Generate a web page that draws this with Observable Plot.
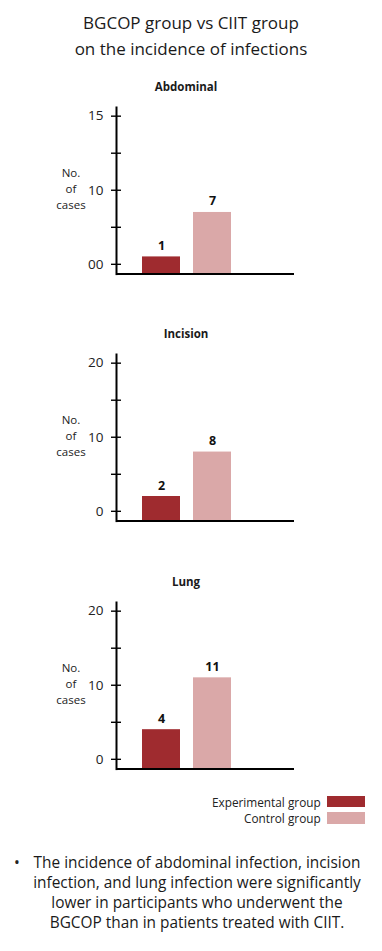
<!DOCTYPE html>
<html><head><meta charset="utf-8">
<script src="https://cdn.jsdelivr.net/npm/d3@7"></script>
<script src="https://cdn.jsdelivr.net/npm/@observablehq/plot@0.6"></script>
<style>
body{margin:0;background:#fff;font-family:"Open Sans",sans-serif;color:#222}
#root{position:relative;width:382px;height:951px;overflow:hidden}
.abs{position:absolute}
.title{left:0;width:382px;text-align:center;font-size:17px;line-height:26px;top:10px;color:#1a1a1a}
.ptitle{left:0;width:372px;text-align:center;font-size:11.5px;font-weight:700;line-height:14px;color:#1a1a1a}
.ylab{left:41px;width:60px;text-align:center;font-size:11.5px;line-height:16px;color:#222}
.leg{font-size:11.8px;line-height:16.3px;text-align:right;width:220px;left:100.7px;color:#222;white-space:nowrap}
.sw{left:327px;width:38px;height:11.4px}
.note{left:22px;width:350px;text-align:center;font-size:15.4px;line-height:20px;top:853px;color:#1a1a1a;white-space:nowrap}
.bullet{left:14px;top:853px;font-size:15.4px;line-height:20px}
svg text.tl{font-size:13.5px}
</style></head><body><div id="root"></div>
<script>
const panels = ["Abdominal", "Incision", "Lung"];
const groups = ["Experimental group", "Control group"];
const experimental = [1, 2, 4];
const control = [7, 8, 11];
const tickValues = [0, 5, 10, 15, 20];
const labeledTicks = [0, 10, 20];
const tickLabels = [["00", "10", "15"], ["0", "10", "20"], ["0", "10", "20"]];
const colors = ["#9f2b2f", "#daa8a8"];
const titleLines = ["BGCOP group vs CIIT group", "on the incidence of infections"];
const yLabelLines = ["No.", "of", "cases"];
const noteLines = [
  "The incidence of abdominal infection, incision",
  "infection, and lung infection were significantly",
  "lower in participants who underwent the",
  "BGCOP than in patients treated with CIIT."
];

const root = document.getElementById("root");
function add(cls, html, style) {
  const d = document.createElement("div");
  d.className = "abs " + cls;
  d.innerHTML = html;
  if (style) Object.assign(d.style, style);
  root.appendChild(d);
  return d;
}

add("title", titleLines.join("<br>"));

const yMin = -1.32, yMax = 21.17;
panels.forEach((name, i) => {
  const axisTop = 107 + i * 247.4;
  add("ptitle", name, {top: (axisTop - 27.3) + "px"});
  add("ylab", yLabelLines.join("<br>"), {top: (axisTop + 58) + "px"});
  const data = groups.map((g, j) => ({group: g, value: j === 0 ? experimental[i] : control[i]}));
  const labels = tickLabels[i];
  const svg = Plot.plot({
    width: 382, height: 174,
    marginTop: 4, marginBottom: 3.4, marginLeft: 116, marginRight: 88,
    x: {domain: groups, range: [142, 231], paddingInner: 0.255, paddingOuter: 0, axis: null},
    y: {domain: [yMin, yMax]},
    color: {domain: groups, range: colors},
    style: {fontFamily: "Open Sans", fontSize: "12px", background: "transparent", overflow: "visible", color: "#000"},
    marks: [
      Plot.barY(data, {x: "group", y1: yMin, y2: "value", fill: "group"}),
      Plot.text(data, {x: "group", y: "value", text: d => String(d.value), dy: -11, fontSize: 12.5, fontWeight: 700, fill: "#111"}),
      Plot.axisY(tickValues, {tickSize: 10, dx: 5, tickFormat: () => "", strokeWidth: 1.4, label: null}),
      Plot.text(labeledTicks, {y: d => d, frameAnchor: "left", dx: -13, textAnchor: "end", text: (d, k) => labels[k], fontSize: 13.5, fill: "#222", className: "tl"}),
      Plot.frame({anchor: "left", strokeWidth: 2}),
      Plot.ruleY([yMin], {strokeWidth: 2})
    ]
  });
  svg.style.position = "absolute";
  svg.style.left = "0px";
  svg.style.top = (axisTop - 4) + "px";
  root.appendChild(svg);
});

groups.forEach((g, j) => {
  const top = 793.5 + j * 16.3;
  add("leg", g, {top: top + "px"});
  add("sw", "", {top: (top + 2.5) + "px", background: colors[j]});
});

add("bullet", "•");
add("note", noteLines.join("<br>"));
</script>
</body></html>
